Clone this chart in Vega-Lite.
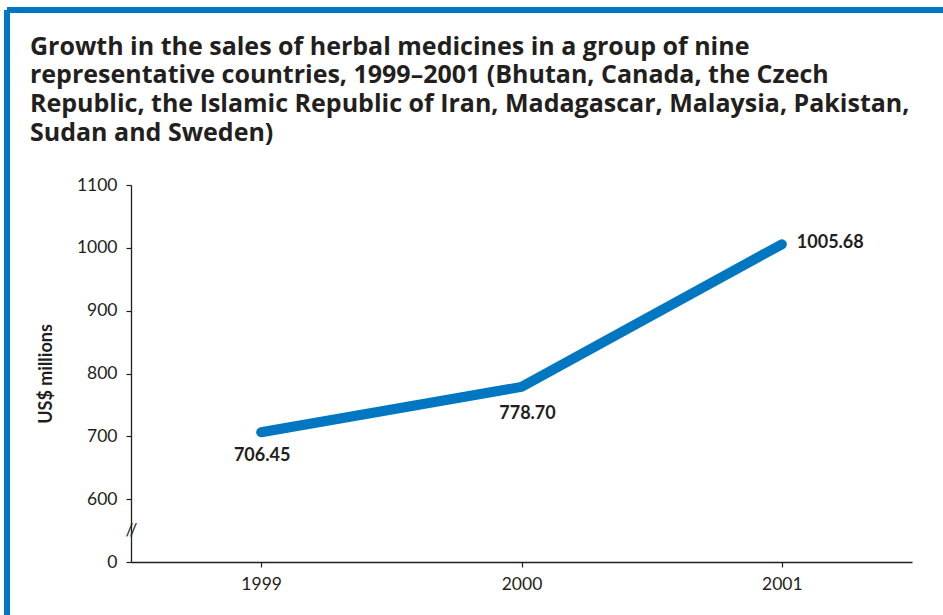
{
  "$schema": "https://vega.github.io/schema/vega-lite/v6.json",
  "autosize": "none",
  "width": 936,
  "height": 605,
  "padding": {"left": 7, "top": 10, "right": 0, "bottom": 0},
  "background": "white",
  "config": {
    "view": {"stroke": "#0077c0", "strokeWidth": 6, "strokeDash": [936, 1541, 605, 0]},
    "font": "Lato",
    "axis": {"labelFont": "Lato", "titleFont": "Lato", "labelColor": "#231f20", "titleColor": "#231f20", "domainColor": "#231f20", "tickColor": "#231f20", "grid": false}
  },
  "title": {
    "text": [
      "Growth in the sales of herbal medicines in a group of nine",
      "representative countries, 1999–2001 (Bhutan, Canada, the Czech",
      "Republic, the Islamic Republic of Iran, Madagascar, Malaysia, Pakistan,",
      "Sudan and Sweden)"
    ],
    "anchor": "start",
    "frame": "group",
    "orient": "top",
    "baseline": "top",
    "offset": -24,
    "dx": 23,
    "dy": 112,
    "font": "Open Sans",
    "fontSize": 25,
    "fontWeight": "bold",
    "color": "#231f20",
    "lineHeight": 28.8
  },
  "data": {
    "values": [
      {"year": "1999", "sales": 706.45},
      {"year": "2000", "sales": 778.70},
      {"year": "2001", "sales": 1005.68}
    ]
  },
  "encoding": {
    "x": {
      "field": "year",
      "type": "ordinal",
      "scale": {"type": "point", "range": [124, 905], "padding": 0.5},
      "axis": {"title": null, "labelAngle": 0, "offset": -53, "tickSize": 5, "labelPadding": 8, "labelFontSize": 17.5, "domainWidth": 1.3, "tickWidth": 1.2}
    },
    "y": {
      "field": "sales",
      "type": "quantitative",
      "scale": {"domain": [500, 1100], "range": [552, 175], "zero": false, "nice": false},
      "axis": {
        "title": "US$ millions",
        "titleFontSize": 18,
        "titleFontWeight": "bold",
        "titlePadding": 21,
        "offset": -124,
        "values": [500, 550, 600, 700, 800, 900, 1000, 1100],
        "labelExpr": "datum.value == 500 ? '0' : datum.value == 550 ? '//' : datum.label",
        "format": "d",
        "tickSize": 5,
        "tickOpacity": {"condition": {"test": "datum.value == 550", "value": 0}, "value": 1},
        "labelPadding": {"condition": {"test": "datum.value == 550", "value": -5}, "value": 9},
        "labelAlign": {"condition": {"test": "datum.value == 550", "value": "center"}, "value": "right"},
        "labelFontSize": 17.5,
        "domainWidth": 1.3,
        "tickWidth": 1.2
      }
    }
  },
  "layer": [
    {
      "mark": {"type": "line", "color": "#0077c0", "strokeWidth": 10, "strokeCap": "round", "strokeJoin": "round"}
    },
    {
      "transform": [{"filter": "datum.year == '1999'"}],
      "mark": {"type": "text", "font": "Lato", "fontSize": 18, "fontWeight": "bold", "color": "#231f20", "baseline": "alphabetic", "align": "center", "dy": 29, "dx": 1},
      "encoding": {"text": {"field": "sales", "type": "quantitative", "format": ".2f"}}
    },
    {
      "transform": [{"filter": "datum.year == '2000'"}],
      "mark": {"type": "text", "font": "Lato", "fontSize": 18, "fontWeight": "bold", "color": "#231f20", "baseline": "alphabetic", "align": "center", "dy": 32, "dx": 6},
      "encoding": {"text": {"field": "sales", "type": "quantitative", "format": ".2f"}}
    },
    {
      "transform": [{"filter": "datum.year == '2001'"}],
      "mark": {"type": "text", "font": "Lato", "fontSize": 18, "fontWeight": "bold", "color": "#231f20", "baseline": "middle", "align": "left", "dx": 15, "dy": -1},
      "encoding": {"text": {"field": "sales", "type": "quantitative", "format": ".2f"}}
    }
  ]
}
